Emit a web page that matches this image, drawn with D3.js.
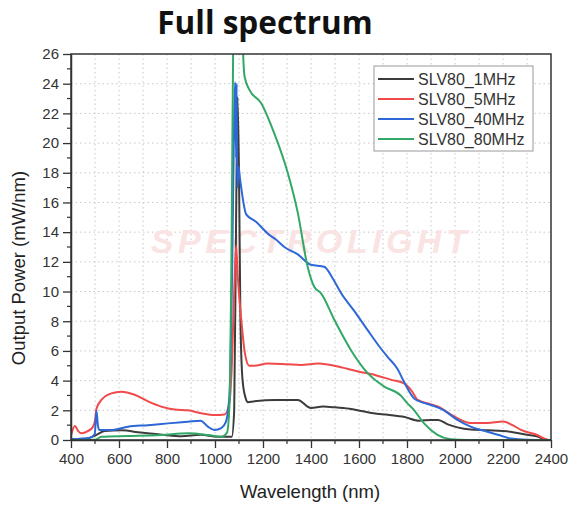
<!DOCTYPE html>
<html><head><meta charset="utf-8">
<script src="https://cdn.jsdelivr.net/npm/d3@7"></script>
<style>body{margin:0;background:#fff}svg{display:block}</style>
</head><body><svg id="c" width="571" height="506"></svg>
<script>
const seriesNames = ["SLV80_1MHz","SLV80_5MHz","SLV80_40MHz","SLV80_80MHz"];
const seriesColors = ["#3c3c3c","#f04a4a","#2d68d6","#32a866"];
const xTicks = [400,600,800,1000,1200,1400,1600,1800,2000,2200,2400];
const yTicks = [0,2,4,6,8,10,12,14,16,18,20,22,24,26];

const s1MHz = [[400,0.05],[450,0.05],[500,0.3],[540,0.6],[610,0.65],[690,0.5],[780,0.35],[860,0.25],[940,0.35],[1010,0.22],[1070,0.22],[1080,2],[1088,15],[1094,23.1],[1100,18],[1106,8],[1115,4],[1128,2.8],[1137,2.55],[1160,2.6],[1250,2.7],[1345,2.7],[1400,2.15],[1450,2.25],[1500,2.2],[1560,2.1],[1610,1.95],[1660,1.8],[1720,1.7],[1790,1.55],[1850,1.3],[1900,1.35],[1930,1.35],[1970,1.05],[2010,0.85],[2065,0.7],[2135,0.65],[2230,0.55],[2300,0.35],[2340,0.25],[2380,0.02],[2400,0]];
const s5MHz = [[400,0.3],[416,0.95],[430,0.6],[444,0.45],[470,0.6],[490,0.85],[500,1.3],[506,2.1],[527,2.7],[568,3.14],[610,3.25],[665,3.05],[721,2.6],[776,2.25],[832,2.05],[887,2.0],[943,1.8],[998,1.68],[1040,1.72],[1060,2.5],[1070,5],[1080,10],[1088,13.1],[1095,11],[1110,8],[1125,5.8],[1143,5.0],[1160,5.0],[1220,5.15],[1300,5.1],[1358,5.05],[1430,5.15],[1525,4.9],[1600,4.6],[1650,4.45],[1735,4.05],[1790,3.8],[1820,3.3],[1845,2.7],[1900,2.4],[1930,2.25],[1995,1.6],[2065,1.15],[2135,1.15],[2200,1.25],[2240,1.0],[2275,0.68],[2340,0.35],[2385,0.02],[2400,0]];
const s40MHz = [[400,0.05],[480,0.15],[499,0.4],[506,1.97],[512,1.0],[518,0.67],[568,0.67],[638,0.9],[721,1.0],[804,1.12],[887,1.23],[940,1.3],[970,0.9],[998,0.67],[1026,0.8],[1045,1.2],[1060,3],[1072,12],[1080,22],[1084,24.1],[1088,19],[1090,24],[1093,17],[1098,18.4],[1105,17.5],[1130,15.2],[1171,14.7],[1220,13.9],[1254,13.5],[1289,13.0],[1345,12.5],[1400,11.8],[1455,11.67],[1490,10.9],[1525,9.9],[1580,8.7],[1636,7.4],[1680,6.4],[1719,5.6],[1760,4.8],[1788,3.9],[1830,2.8],[1870,2.5],[1899,2.36],[1954,2.0],[2010,1.35],[2065,0.9],[2135,0.56],[2190,0.3],[2232,0.1],[2300,0.02],[2400,0]];
const s80MHz = [[400,0],[500,0.02],[527,0.22],[638,0.27],[776,0.34],[887,0.45],[970,0.34],[1026,0.22],[1050,0.5],[1062,3],[1070,15],[1076,27],[1090,34],[1110,30],[1116,26.5],[1123,24.5],[1143,23.6],[1192,22.7],[1247,20.65],[1303,18.0],[1345,15.3],[1386,11.67],[1414,10.3],[1442,9.88],[1497,8.1],[1566,6.06],[1636,4.5],[1705,3.6],[1774,3.0],[1800,2.5],[1830,2.0],[1871,1.12],[1927,0.34],[1982,0.05],[2050,0],[2400,0]];
const seriesData = [s1MHz, s5MHz, s40MHz, s80MHz];

const svg = d3.select("#c");
const L = 71, R = 551, T = 54, B = 440;
const x = d3.scaleLinear().domain([400,2400]).range([L,R]);
const y = d3.scaleLinear().domain([0,26]).range([B,T]);
const font = "'Liberation Sans', Arial, sans-serif";

svg.append("rect").attr("width",571).attr("height",506).attr("fill","#fff");

// title
svg.append("text").attr("x",265).attr("y",34).attr("text-anchor","middle")
  .attr("font-family","'Open Sans', 'Noto Sans', sans-serif").attr("font-weight",700)
  .attr("font-size",31.5).attr("fill","#111").text("Full spectrum");

// grid
const g = svg.append("g");
g.selectAll(".vg").data(d3.range(500,2400,100)).enter().append("line")
  .attr("x1",d=>x(d)).attr("x2",d=>x(d)).attr("y1",T).attr("y2",B)
  .attr("stroke","#c8c8c8").attr("stroke-width",1).attr("stroke-dasharray","1.5,3");
g.selectAll(".hg").data(yTicks.filter(v=>v>0&&v<26)).enter().append("line")
  .attr("x1",L).attr("x2",R).attr("y1",d=>y(d)).attr("y2",d=>y(d))
  .attr("stroke","#c8c8c8").attr("stroke-width",1).attr("stroke-dasharray","1.5,3");

// watermark
svg.append("text").attr("x",311).attr("y",253).attr("text-anchor","middle")
  .attr("font-family",font).attr("font-style","italic").attr("font-weight",700)
  .attr("font-size",34).attr("letter-spacing",4.5).attr("fill","#fae3e3").text("SPECTROLIGHT");

// lines
svg.append("clipPath").attr("id","clip").append("rect").attr("x",L).attr("y",T).attr("width",R-L).attr("height",B-T);
const line = d3.line().x(d=>x(d[0])).y(d=>y(d[1])).curve(d3.curveMonotoneX);
const lg = svg.append("g").attr("clip-path","url(#clip)");
seriesData.forEach((s,i)=>{
  lg.append("path").datum(s).attr("d",line).attr("fill","none")
    .attr("stroke",seriesColors[i]).attr("stroke-width",2).attr("stroke-linejoin","round");
});

// axes
const xa = svg.append("g").attr("transform",`translate(0,${B})`)
  .call(d3.axisBottom(x).tickValues(xTicks).tickSize(8).tickSizeOuter(0).tickPadding(5).tickFormat(d3.format("d")));
const ya = svg.append("g").attr("transform",`translate(${L},0)`)
  .call(d3.axisLeft(y).tickValues(yTicks).tickSize(8).tickSizeOuter(0).tickPadding(4));
[xa,ya].forEach(a=>{
  a.selectAll("text").attr("font-family",font).attr("font-size",15).attr("fill","#333");
  a.selectAll("line").attr("stroke","#333").attr("stroke-width",1.3);
  a.select(".domain").attr("stroke","#333").attr("stroke-width",1.5);
});
// minor ticks
svg.append("g").selectAll("line").data(d3.range(500,2400,200)).enter().append("line")
  .attr("x1",d=>x(d)).attr("x2",d=>x(d)).attr("y1",B).attr("y2",B+4).attr("stroke","#333").attr("stroke-width",1.2);
svg.append("g").selectAll("line").data(d3.range(1,26,2)).enter().append("line")
  .attr("x1",L-4).attr("x2",L).attr("y1",d=>y(d)).attr("y2",d=>y(d)).attr("stroke","#333").attr("stroke-width",1.2);
// frame
svg.append("rect").attr("x",L).attr("y",T).attr("width",R-L).attr("height",B-T)
  .attr("fill","none").attr("stroke","#333").attr("stroke-width",1.5);

// axis labels
svg.append("text").attr("x",310).attr("y",498).attr("text-anchor","middle")
  .attr("font-family",font).attr("font-size",18.5).attr("fill","#222").text("Wavelength (nm)");
svg.append("text").attr("transform","translate(25,268) rotate(-90)").attr("text-anchor","middle")
  .attr("font-family",font).attr("font-size",18.5).attr("fill","#222").text("Output Power (mW/nm)");

// legend
const leg = svg.append("g");
leg.append("rect").attr("x",374).attr("y",66).attr("width",159).attr("height",85)
  .attr("fill","#fff").attr("stroke","#999").attr("stroke-width",1);
seriesNames.forEach((n,i)=>{
  const yy = 79 + i*20;
  leg.append("line").attr("x1",378).attr("x2",414).attr("y1",yy).attr("y2",yy)
    .attr("stroke",seriesColors[i]).attr("stroke-width",2);
  leg.append("text").attr("x",418).attr("y",yy+5.5).attr("font-family",font)
    .attr("font-size",16).attr("fill","#333").text(n);
});
</script></body></html>
